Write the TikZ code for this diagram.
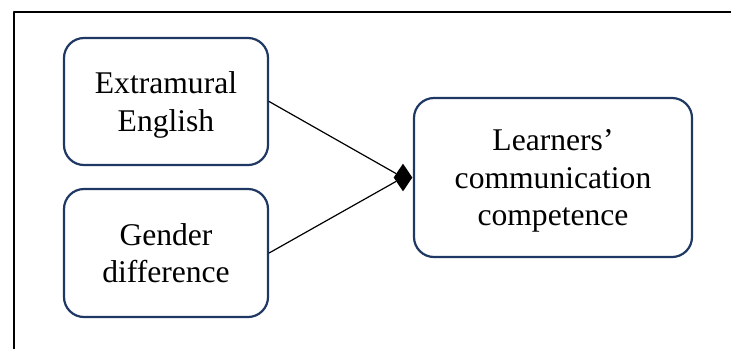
\documentclass[tikz,border=0pt]{standalone}
\usepackage{fontspec}
\setmainfont{Liberation Serif}
\usepackage{tikz}
\usetikzlibrary{arrows.meta}
\usetikzlibrary{shapes.geometric}
\definecolor{navyframe}{rgb}{0.12,0.22,0.39}
\begin{document}
\begin{tikzpicture}[line cap=round,line join=round, x=0.5pt,y=-0.5pt,
  factor/.style={draw=navyframe, line width=1.1pt, rounded corners=10pt, align=center,
    inner sep=0pt, text depth=0pt, font=\fontsize{15.8}{18.6}\selectfont},
  link/.style={line width=0.6pt, black}]
\useasboundingbox (0,0) rectangle (731,349);
\draw [line width=1.1pt, line cap=butt] (14,349) -- (14,12) -- (731,12);
\node [factor, minimum width=102pt, minimum height=63.5pt] (eng) at (166,101.5) {Extramural\\English};
\node [factor, minimum width=102pt, minimum height=64pt] (gen) at (166,253) {Gender\\difference};
\node [factor, minimum width=139pt, minimum height=79.5pt] (comp) at (553,177.5) {Learners’\\communication\\competence};
\node [diamond, fill=black, inner sep=0pt, minimum width=9.5pt, minimum height=14pt, anchor=east] (join) at (comp.west) {};
\draw [link] (eng.east) -- (join);
\draw [link] (gen.east) -- (join);
\end{tikzpicture}
\end{document}
